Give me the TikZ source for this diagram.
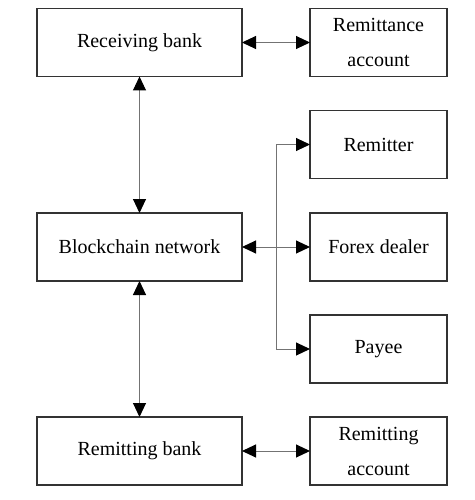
\documentclass[tikz,border=0pt]{standalone}
\usepackage{fontspec}
\setmainfont{Liberation Serif}
\usetikzlibrary{arrows.meta}

\begin{document}
\begin{tikzpicture}[x=1pt,y=-1pt,
  every node/.style={font=\fontsize{20}{35}\selectfont, align=center, outer sep=0pt},
  bank/.style={draw=black!80, line width=1.3pt, minimum width=205pt, minimum height=68pt},
  party/.style={draw=black!80, line width=1.3pt, minimum width=137pt, minimum height=68pt},
  link/.style={draw=black!55, line width=1pt, {Triangle[length=14pt,width=13pt,black]}-{Triangle[length=14pt,width=13pt,black]}},
  feed/.style={draw=black!55, line width=1pt, -{Triangle[length=14pt,width=13pt,black]}}]
\useasboundingbox (0,0) rectangle (474,500);

\node[bank] (recv) at (139.5,42.5) {Receiving bank};
\node[party] (remacc) at (378.5,42.5) {Remittance\\account};
\node[party] (remitter) at (378.5,144.5) {Remitter};
\node[bank] (chain) at (139.5,247) {Blockchain network};
\node[party] (forex) at (378.5,247) {Forex dealer};
\node[party] (payee) at (378.5,349) {Payee};
\node[bank] (sendbank) at (139.5,451) {Remitting bank};
\node[party] (sendacc) at (378.5,451) {Remitting\\account};

\coordinate (fork) at (276,247);

\draw[link] (recv) -- (remacc);
\draw[link] (recv) -- (chain);
\draw[link] (chain) -- (sendbank);
\draw[link] (sendbank) -- (sendacc);
\draw[link] (chain) -- (forex);
\draw[feed] (fork) |- (remitter);
\draw[feed] (fork) |- (payee);
\end{tikzpicture}
\end{document}
